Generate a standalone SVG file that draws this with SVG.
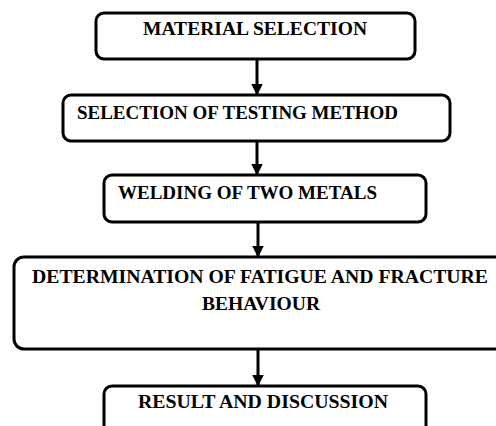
<svg xmlns="http://www.w3.org/2000/svg" width="496" height="426" viewBox="0 0 496 426">
<defs>
<style>
.box{fill:#fff;stroke:#000;stroke-width:3}
.t{font-family:"Liberation Serif","Times New Roman",serif;font-weight:bold;font-size:18px;fill:#000}
.c{stroke:#000;stroke-width:3;fill:none}
</style>
<marker id="ah" markerWidth="4" markerHeight="4" refX="3.5" refY="2" orient="auto" markerUnits="strokeWidth">
<path d="M0,0 L4,2 L0,4 Z" fill="#000"/>
</marker>
</defs>
<rect width="496" height="426" fill="#fff"/>
<g id="connectors">
<line class="c" x1="257" y1="59" x2="257" y2="94" marker-end="url(#ah)"/>
<line class="c" x1="257" y1="141" x2="257" y2="174" marker-end="url(#ah)"/>
<line class="c" x1="258" y1="222" x2="258" y2="256" marker-end="url(#ah)"/>
<line class="c" x1="258" y1="349" x2="258" y2="385" marker-end="url(#ah)"/>
</g>
<g id="n1">
<rect class="box" x="96" y="13" width="319" height="46" rx="8"/>
<text class="t" x="143" y="35" textLength="224" lengthAdjust="spacingAndGlyphs">MATERIAL SELECTION</text>
</g>
<g id="n2">
<rect class="box" x="63" y="95" width="387" height="46" rx="8"/>
<text class="t" x="77" y="119" textLength="321" lengthAdjust="spacingAndGlyphs">SELECTION OF TESTING METHOD</text>
</g>
<g id="n3">
<rect class="box" x="104" y="175" width="322" height="47" rx="8"/>
<text class="t" x="118" y="199" textLength="259" lengthAdjust="spacingAndGlyphs">WELDING OF TWO METALS</text>
</g>
<g id="n4">
<rect class="box" x="14" y="257" width="494" height="92" rx="10"/>
<text class="t" x="32" y="283" textLength="456" lengthAdjust="spacingAndGlyphs">DETERMINATION OF FATIGUE AND FRACTURE</text>
<text class="t" x="202" y="310" textLength="118" lengthAdjust="spacingAndGlyphs">BEHAVIOUR</text>
</g>
<g id="n5">
<rect class="box" x="104" y="386" width="322" height="60" rx="8"/>
<text class="t" x="138" y="408" textLength="250" lengthAdjust="spacingAndGlyphs">RESULT AND DISCUSSION</text>
</g>
</svg>
